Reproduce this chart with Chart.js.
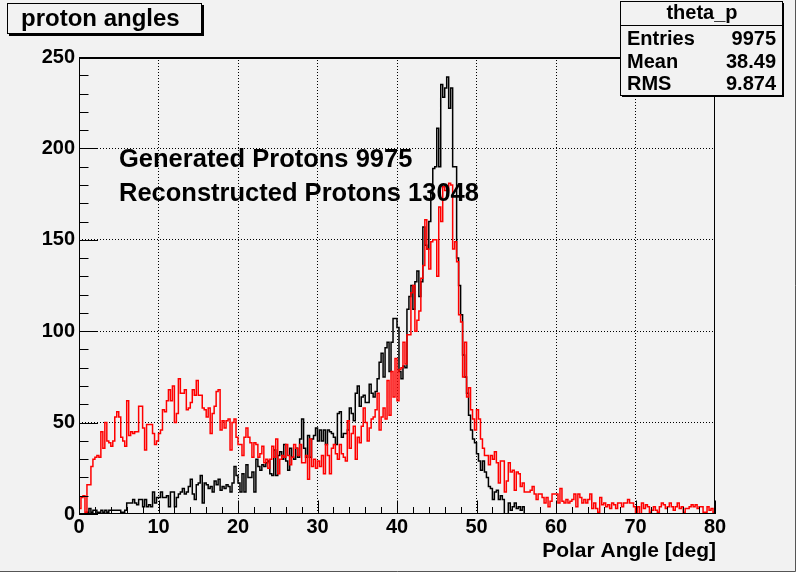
<!DOCTYPE html>
<html><head><meta charset="utf-8">
<script src="https://cdn.jsdelivr.net/npm/chart.js@4/dist/chart.umd.min.js"></script>
<style>html,body{margin:0;padding:0;background:#f2f2f2;overflow:hidden}canvas{display:block}</style>
</head><body>
<canvas id="c" width="796" height="572"></canvas>
<script>
// ---- histogram binning ----
const BIN_WIDTH = 0.25;
const X_MIN = 0;
const X_MAX = 80;
const Y_MIN = 0;
const Y_MAX = 250;

// ---- generated protons (black), 320 bins of 0.25 deg ----
const generated = [
 0,0,0,0,1,3,1,2,2,1,
 1,2,1,2,1,2,2,2,2,2,
 2,1,1,2,6,6,6,8,6,5,
 8,8,4,8,4,5,4,12,6,9,
 9,12,9,9,10,4,12,12,4,9,
 11,12,14,11,12,15,19,11,8,16,
 17,21,6,17,16,14,15,12,18,16,
 19,13,15,14,16,15,12,17,26,21,
 17,12,22,12,27,20,20,23,12,30,
 26,24,27,26,28,29,22,21,35,21,
 32,34,30,38,29,24,36,31,30,36,
 31,41,52,36,31,43,31,41,43,47,
 40,46,40,46,38,46,45,44,42,38,
 55,56,42,44,44,46,58,55,51,66,
 70,59,64,65,61,61,71,66,64,67,
 74,83,88,75,91,94,78,94,107,107,
 102,78,74,81,80,112,119,125,112,127,
 133,119,127,157,147,145,160,176,189,190,
 211,190,235,228,233,239,222,233,190,190,
 140,125,109,87,75,66,54,46,41,39,
 33,29,24,29,23,20,15,14,8,12,
 13,8,10,8,0,0,6,2,4,6,
 3,4,2,4,0,0,0,0,0,0,
 0,0,0,0,0,0,0,0,0,0,
 0,0,0,0,0,0,0,0,0,0,
 0,0,0,0,0,0,0,0,0,0,
 0,0,0,0,0,0,0,0,0,0,
 0,0,0,0,0,0,0,0,0,0,
 0,0,0,0,0,0,0,0,0,0,
 0,0,0,0,0,0,0,0,0,0,
 0,0,0,0,0,0,0,0,0,0,
 0,0,0,0,0,0,0,0,0,0
];

// ---- reconstructed protons (red), 320 bins of 0.25 deg ----
const reconstructed = [
 3,9,10,1,16,16,26,30,31,32,
 31,45,36,50,40,39,37,40,53,56,
 53,42,40,37,62,43,45,44,45,45,
 59,59,47,35,49,49,49,44,38,40,
 44,46,57,56,62,68,62,70,50,55,
 74,66,66,68,57,58,61,68,65,73,
 65,65,58,57,53,58,44,55,59,67,
 68,46,51,47,51,52,35,50,52,42,
 38,38,32,42,47,42,39,31,39,38,
 31,33,37,28,30,25,30,37,31,41,
 22,30,32,31,38,32,27,31,38,36,
 32,38,28,28,32,19,41,26,30,25,
 29,26,32,22,38,32,22,36,38,33,
 30,38,33,31,29,51,36,44,48,30,
 42,39,48,58,50,40,47,52,53,57,
 66,46,53,58,52,73,54,78,64,85,
 62,79,80,94,82,98,98,121,125,100,
 106,111,129,136,161,145,134,149,150,150,
 130,168,160,179,177,177,181,180,145,149,
 138,109,105,75,94,64,69,57,52,46,
 57,52,41,36,32,32,27,32,30,34,
 28,17,29,29,12,18,28,23,24,13,
 23,22,15,17,12,12,12,13,15,11,
 8,11,11,9,6,9,4,7,11,11,
 11,6,14,7,6,8,6,7,8,11,
 4,11,9,6,8,6,8,11,3,6,
 3,1,9,5,6,4,5,3,6,5,
 3,6,6,4,6,6,8,6,6,4,
 1,4,0,6,3,5,4,1,2,4,
 2,1,4,6,5,3,4,6,4,2,
 4,6,3,4,1,3,3,4,5,4,
 5,3,4,4,1,1,4,2,3,1
];

// ---- tick labels ----
const xTickValues = [0,10,20,30,40,50,60,70,80];
const yTickValues = [0,50,100,150,200,250];
const xMinorStep = 2;
const yMinorStep = 10;

// ---- texts ----
const histTitle = 'proton angles';
const statsTitle = 'theta_p';
const statsLabels = ['Entries','Mean','RMS'];
const statsValues = ['9975','38.49','9.874'];
const annotationLines = ['Generated Protons 9975','Reconstructed Protons 13048'];
const xAxisTitle = 'Polar Angle [deg]';

const FONT = '"Liberation Sans", Arial, Helvetica, sans-serif';

function toSteps(values){
  const pts = [{x: X_MIN, y: 0}];
  values.forEach((v, i) => pts.push({x: X_MIN + i * BIN_WIDTH, y: v}));
  pts.push({x: X_MIN + values.length * BIN_WIDTH, y: values[values.length - 1]});
  return pts;
}

const rootDecor = {
  id: 'rootDecor',
  beforeDraw(chart){
    const ctx = chart.ctx;
    ctx.save();
    ctx.fillStyle = '#f2f2f2';
    ctx.fillRect(0, 0, chart.width, chart.height);
    ctx.strokeStyle = '#555';
    ctx.lineWidth = 1;
    ctx.beginPath();
    ctx.moveTo(chart.width - 0.5, 0); ctx.lineTo(chart.width - 0.5, chart.height - 0.5);
    ctx.lineTo(0, chart.height - 0.5);
    ctx.stroke();
    ctx.restore();
  },
  afterDatasetsDraw(chart){
    const ctx = chart.ctx;
    const xs = chart.scales.x, ys = chart.scales.y;
    const a = chart.chartArea;
    ctx.save();
    ctx.strokeStyle = '#000';
    ctx.lineWidth = 1;
    // frame
    ctx.strokeRect(Math.round(a.left) + 0.5, Math.round(a.top) + 0.5,
                   Math.round(a.right - a.left) - 1, Math.round(a.bottom - a.top) - 1);
    ctx.lineWidth = 2;
    ctx.beginPath();
    ctx.moveTo(a.left, Math.round(a.top) + 1); ctx.lineTo(a.right, Math.round(a.top) + 1);
    ctx.stroke();
    ctx.lineWidth = 1;
    // y ticks (inward)
    ctx.beginPath();
    for (let v = Y_MIN; v <= Y_MAX; v += yMinorStep){
      const y = Math.round(ys.getPixelForValue(v)) + 0.5;
      const len = (v % 50 === 0) ? 19 : 9.5;
      ctx.moveTo(a.left, y); ctx.lineTo(a.left + len, y);
    }
    // x ticks (inward)
    for (let v = X_MIN; v <= X_MAX; v += xMinorStep){
      const x = Math.round(xs.getPixelForValue(v)) + 0.5;
      const len = (v % 10 === 0) ? 13.5 : 7;
      ctx.moveTo(x, a.bottom); ctx.lineTo(x, a.bottom - len);
    }
    ctx.stroke();
    ctx.restore();
  },
  afterDraw(chart){
    const ctx = chart.ctx;
    ctx.save();
    ctx.fillStyle = '#000';
    ctx.strokeStyle = '#000';
    ctx.lineWidth = 1;
    // title box with shadow
    ctx.fillStyle = '#000';
    ctx.fillRect(9, 5, 195, 31);
    ctx.fillStyle = '#f2f2f2';
    ctx.fillRect(7, 3, 194, 30);
    ctx.strokeRect(7.5, 3.5, 194, 30);
    ctx.fillStyle = '#000';
    ctx.font = 'bold 24px ' + FONT;
    ctx.textBaseline = 'alphabetic';
    ctx.textAlign = 'left';
    ctx.fillText(histTitle, 21, 26);

    // stats box with shadow
    const bx = 620, by = 1, bw = 162, bh = 94;
    ctx.fillStyle = '#000';
    ctx.fillRect(bx + 2, by + 2, bw, bh);
    ctx.fillStyle = '#f2f2f2';
    ctx.fillRect(bx, by, bw, bh);
    ctx.strokeRect(bx + 0.5, by + 0.5, bw, bh);
    ctx.beginPath();
    ctx.moveTo(bx, 25.5); ctx.lineTo(bx + bw, 25.5);
    ctx.stroke();
    ctx.fillStyle = '#000';
    ctx.font = 'bold 20px ' + FONT;
    ctx.textAlign = 'center';
    ctx.fillText(statsTitle, bx + bw / 2 + 1, 19);
    const rowY = [45, 68, 90];
    statsLabels.forEach((lab, i) => {
      ctx.textAlign = 'left';
      ctx.fillText(lab, 627, rowY[i]);
      ctx.textAlign = 'right';
      ctx.fillText(statsValues[i], 776, rowY[i]);
    });

    // annotation
    ctx.textAlign = 'left';
    ctx.font = 'bold 25.5px ' + FONT;
    ctx.fillText(annotationLines[0], 119, 167);
    ctx.fillText(annotationLines[1], 119, 201);

    // x axis title
    ctx.font = 'bold 21px ' + FONT;
    ctx.textAlign = 'right';
    ctx.fillText(xAxisTitle, 716, 557);
    ctx.restore();
  }
};

const gridColor = (edgeVals) => (c) => (c.tick && edgeVals.includes(c.tick.value)) ? 'rgba(0,0,0,0)' : '#000';

new Chart(document.getElementById('c'), {
  type: 'line',
  data: {
    datasets: [
      {
        label: 'Generated',
        data: toSteps(generated),
        borderColor: '#000000',
        borderWidth: 1.5,
        pointRadius: 0,
        stepped: true,
        fill: false,
        order: 2
      },
      {
        label: 'Reconstructed',
        data: toSteps(reconstructed),
        borderColor: '#ff0000',
        borderWidth: 1.5,
        pointRadius: 0,
        stepped: true,
        fill: false,
        order: 1
      }
    ]
  },
  options: {
    responsive: false,
    animation: false,
    devicePixelRatio: 1,
    layout: { padding: { left: 0, right: 81, top: 57, bottom: 0 } },
    plugins: { legend: { display: false }, tooltip: { enabled: false }, title: { display: false } },
    scales: {
      x: {
        type: 'linear',
        min: X_MIN, max: X_MAX,
        afterBuildTicks: (s) => { s.ticks = xTickValues.map(v => ({ value: v })); },
        afterFit: (s) => { s.height = 58; },
        ticks: { color: '#000', font: { family: FONT, size: 20, weight: 'bold' }, padding: 1, maxRotation: 0, autoSkip: false },
        grid: { drawTicks: false, color: gridColor([X_MIN, X_MAX]), lineWidth: 1 },
        border: { display: false, dash: [1, 2] }
      },
      y: {
        type: 'linear',
        min: Y_MIN, max: Y_MAX,
        afterBuildTicks: (s) => { s.ticks = yTickValues.map(v => ({ value: v })); },
        afterFit: (s) => { s.width = 79; },
        ticks: { color: '#000', font: { family: FONT, size: 20, weight: 'bold' }, padding: 4, autoSkip: false },
        grid: { drawTicks: false, color: gridColor([Y_MIN, Y_MAX]), lineWidth: 1 },
        border: { display: false, dash: [1, 2] }
      }
    }
  },
  plugins: [rootDecor]
});
</script>
</body></html>
